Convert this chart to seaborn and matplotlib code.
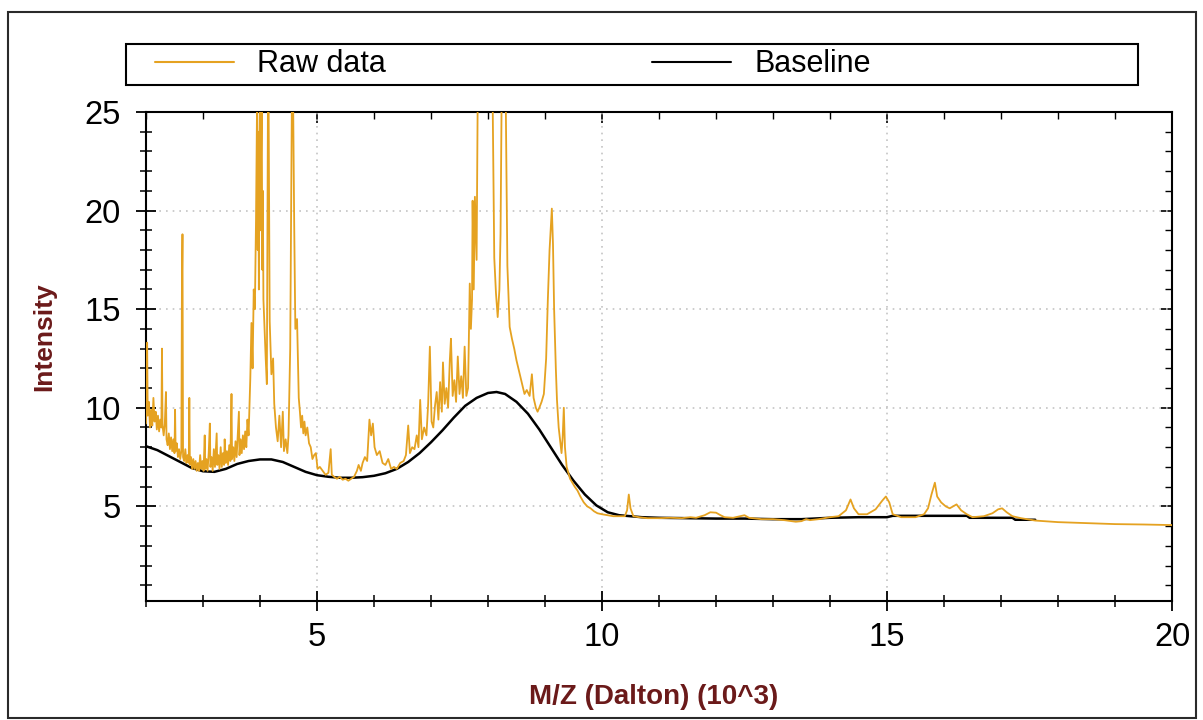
import matplotlib
matplotlib.use("Agg")
import matplotlib.pyplot as plt
import numpy as np
import pandas as pd
import seaborn as sns
from matplotlib.ticker import MultipleLocator
from matplotlib.patches import Rectangle
from matplotlib.lines import Line2D

# ---------------- data (M/Z in 10^3 Dalton, intensity) ----------------
raw_mz = [
    2.00, 2.02, 2.03, 2.05, 2.07, 2.09, 2.11, 2.13, 2.15, 2.17, 2.19, 2.21, 2.23, 2.25, 2.27, 2.28, 2.29,
    2.31, 2.33, 2.35, 2.36, 2.38, 2.40, 2.42, 2.44, 2.46, 2.48, 2.50, 2.51, 2.52, 2.54, 2.56, 2.58, 2.60,
    2.62, 2.63, 2.64, 2.65, 2.67, 2.69, 2.71, 2.73, 2.75, 2.76, 2.77, 2.79, 2.81, 2.83, 2.85, 2.87, 2.89,
    2.91, 2.93, 2.95, 2.97, 2.99, 3.01, 3.03, 3.04, 3.06, 3.08, 3.10, 3.12, 3.13, 3.15, 3.17, 3.19, 3.21,
    3.24, 3.25, 3.27, 3.29, 3.31, 3.33, 3.35, 3.37, 3.38, 3.40, 3.42, 3.44, 3.46, 3.48, 3.50, 3.51, 3.53,
    3.55, 3.57, 3.59, 3.61, 3.63, 3.64, 3.66, 3.68, 3.70, 3.72, 3.74, 3.76, 3.78, 3.80, 3.83, 3.85, 3.87,
    3.89, 3.91, 3.93, 3.95, 3.96, 3.97, 3.98, 3.99, 4.00, 4.01, 4.02, 4.03, 4.04, 4.05, 4.06, 4.08, 4.10,
    4.12, 4.14, 4.15, 4.17, 4.20, 4.23, 4.25, 4.28, 4.31, 4.34, 4.37, 4.40, 4.42, 4.45, 4.48, 4.50, 4.53,
    4.56, 4.58, 4.60, 4.62, 4.65, 4.68, 4.70, 4.72, 4.74, 4.76, 4.78, 4.80, 4.83, 4.86, 4.89, 4.92, 4.95,
    4.98, 5.01, 5.05, 5.10, 5.15, 5.20, 5.24, 5.26, 5.30, 5.35, 5.40, 5.45, 5.50, 5.55, 5.60, 5.65, 5.70,
    5.73, 5.77, 5.80, 5.84, 5.88, 5.92, 5.95, 5.98, 6.01, 6.05, 6.10, 6.15, 6.20, 6.25, 6.30, 6.35, 6.40,
    6.46, 6.52, 6.56, 6.60, 6.63, 6.67, 6.71, 6.75, 6.78, 6.81, 6.84, 6.88, 6.92, 6.95, 6.98, 7.01, 7.04,
    7.07, 7.10, 7.13, 7.16, 7.19, 7.21, 7.24, 7.27, 7.30, 7.33, 7.35, 7.38, 7.41, 7.44, 7.47, 7.50, 7.53,
    7.56, 7.59, 7.62, 7.65, 7.68, 7.70, 7.72, 7.73, 7.75, 7.77, 7.80, 7.82, 7.90, 8.00, 8.08, 8.11, 8.14,
    8.17, 8.20, 8.22, 8.24, 8.28, 8.31, 8.34, 8.38, 8.42, 8.46, 8.50, 8.55, 8.60, 8.64, 8.68, 8.73, 8.77,
    8.80, 8.84, 8.87, 8.90, 8.94, 8.98, 9.02, 9.05, 9.08, 9.12, 9.14, 9.16, 9.19, 9.21, 9.24, 9.27, 9.29,
    9.31, 9.33, 9.35, 9.38, 9.41, 9.44, 9.48, 9.52, 9.57, 9.62, 9.68, 9.74, 9.80, 9.86, 9.92, 10.00,
    10.10, 10.20, 10.30, 10.40, 10.44, 10.47, 10.50, 10.55, 10.65, 10.80, 11.00, 11.20, 11.40, 11.55,
    11.65, 11.80, 11.90, 12.00, 12.08, 12.15, 12.30, 12.42, 12.50, 12.58, 12.80, 13.00, 13.20, 13.40,
    13.50, 13.58, 13.65, 13.80, 14.00, 14.15, 14.28, 14.36, 14.42, 14.50, 14.65, 14.80, 14.92, 14.98,
    15.04, 15.10, 15.25, 15.50, 15.65, 15.72, 15.78, 15.84, 15.88, 15.95, 16.03, 16.10, 16.22, 16.30,
    16.40, 16.50, 16.70, 16.85, 16.95, 17.02, 17.10, 17.20, 17.35, 17.60, 18.00, 18.50, 19.00, 19.50,
    20.00,
]
raw_intensity = [
    9.2, 13.3, 9.6, 10.3, 9.0, 9.9, 9.1, 10.5, 9.3, 9.8, 8.9, 9.6, 8.8, 9.4, 9.0, 13.0, 9.1,
    8.6, 9.2, 10.8, 8.4, 8.1, 8.7, 7.9, 8.5, 7.8, 8.4, 7.7, 9.9, 7.8, 8.2, 7.5, 7.9, 7.4,
    7.8, 16.0, 18.8, 7.5, 7.3, 7.9, 7.2, 7.6, 7.2, 10.5, 7.1, 7.5, 6.9, 7.4, 6.9, 7.3, 6.8,
    7.2, 6.8, 7.6, 6.9, 7.3, 6.8, 8.6, 6.9, 7.4, 6.8, 7.7, 9.2, 7.0, 7.5, 6.8, 7.9, 7.0,
    8.7, 7.1, 7.6, 6.9, 8.0, 7.0, 7.7, 7.1, 8.4, 7.2, 7.8, 7.1, 8.1, 7.3, 10.7, 7.4, 8.0,
    7.3, 8.3, 7.5, 8.6, 9.8, 7.6, 8.4, 7.7, 8.6, 7.9, 8.8, 8.0, 9.4, 8.6, 11.5, 14.3, 12.0,
    16.0, 15.0, 19.5, 26.0, 18.0, 24.0, 16.0, 22.5, 26.0, 19.0, 23.0, 26.0, 17.0, 21.0, 15.5, 14.0, 12.5,
    11.2, 26.0, 26.0, 14.4, 11.7, 12.5, 10.2, 9.0, 8.3, 9.6, 8.0, 9.8, 7.8, 8.4, 7.7, 8.6, 13.0,
    26.0, 26.0, 19.3, 14.0, 14.5, 10.5, 9.8, 9.0, 9.6, 8.7, 9.3, 8.6, 9.0, 8.2, 8.0, 7.4, 7.6,
    7.7, 6.9, 7.0, 6.8, 6.6, 6.7, 7.9, 6.6, 6.5, 6.4, 6.5, 6.35, 6.4, 6.3, 6.4, 6.5, 6.8,
    7.1, 6.8, 7.2, 7.5, 7.3, 9.4, 8.6, 9.2, 8.0, 7.6, 7.8, 7.2, 7.1, 7.4, 6.9, 7.0, 6.9,
    7.2, 7.3, 7.6, 9.1, 7.7, 8.0, 7.9, 8.6, 8.0, 10.4, 8.4, 9.0, 8.6, 10.2, 13.1, 9.3, 9.0,
    10.1, 10.8, 9.4, 11.3, 9.8, 12.3, 10.2, 11.0, 10.0, 12.4, 13.5, 10.6, 11.4, 10.3, 12.6, 10.7, 11.6,
    10.5, 13.1, 10.6, 11.0, 16.3, 14.0, 15.5, 20.5, 16.0, 20.7, 17.5, 26.0, 26.0, 26.0, 26.0, 17.6, 15.8,
    14.6, 16.0, 18.8, 26.0, 26.0, 26.0, 17.2, 14.1, 13.5, 13.0, 12.4, 11.8, 11.2, 10.7, 10.9, 10.6, 11.7,
    10.5, 10.0, 9.8, 10.0, 10.3, 10.7, 12.5, 15.5, 18.0, 20.1, 18.3, 15.0, 12.0, 10.4, 9.0, 8.2, 7.7,
    8.5, 10.0, 8.0, 7.0, 6.7, 6.4, 6.2, 6.0, 5.8, 5.5, 5.2, 5.0, 4.9, 4.75, 4.65, 4.6,
    4.55, 4.5, 4.5, 4.5, 4.8, 5.6, 4.9, 4.5, 4.45, 4.4, 4.4, 4.42, 4.4, 4.45,
    4.42, 4.55, 4.7, 4.68, 4.55, 4.45, 4.42, 4.5, 4.55, 4.42, 4.35, 4.35, 4.3, 4.22,
    4.25, 4.35, 4.3, 4.35, 4.45, 4.5, 4.8, 5.35, 4.9, 4.6, 4.6, 4.85, 5.3, 5.5,
    5.2, 4.6, 4.45, 4.45, 4.6, 4.9, 5.6, 6.2, 5.5, 5.2, 5.0, 4.9, 5.1, 4.8,
    4.6, 4.45, 4.5, 4.65, 4.85, 4.9, 4.7, 4.5, 4.4, 4.28, 4.2, 4.15, 4.1, 4.08,
    4.05,
]

base_mz = [
    2.0, 2.2, 2.4, 2.6, 2.8, 3.0, 3.2, 3.4, 3.6, 3.8, 4.0, 4.2, 4.4, 4.6, 4.8, 5.0, 5.2, 5.4, 5.6,
    5.8, 6.0, 6.2, 6.4, 6.6, 6.8, 7.0, 7.2, 7.4, 7.6, 7.8, 8.0, 8.15, 8.3, 8.5, 8.7, 8.9, 9.1, 9.3,
    9.5, 9.7, 9.9, 10.1, 10.3, 10.5, 10.7, 11.0, 11.5, 12.0, 12.5, 13.0, 13.5, 14.0, 14.5, 15.0,
    15.1, 15.5, 16.0, 16.4, 16.45, 17.0, 17.2, 17.25, 17.6,
]
base_intensity = [
    8.05, 7.85, 7.55, 7.25, 6.95, 6.78, 6.75, 6.9, 7.15, 7.3, 7.38, 7.38, 7.25, 7.0, 6.75, 6.58, 6.5, 6.45, 6.45,
    6.48, 6.55, 6.68, 6.9, 7.25, 7.7, 8.25, 8.85, 9.5, 10.1, 10.5, 10.75, 10.8, 10.7, 10.3, 9.7, 8.9, 8.0, 7.1,
    6.3, 5.6, 5.05, 4.7, 4.55, 4.5, 4.45, 4.42, 4.4, 4.38, 4.38, 4.35, 4.35, 4.42, 4.45, 4.45,
    4.52, 4.52, 4.52, 4.52, 4.42, 4.42, 4.42, 4.32, 4.32,
]

series_names = ["Raw data", "Baseline"]
x_ticks = [5, 10, 15, 20]
y_ticks = [5, 10, 15, 20, 25]

raw_df = pd.DataFrame({"mz": raw_mz, "intensity": raw_intensity})
base_df = pd.DataFrame({"mz": base_mz, "intensity": base_intensity})

# ---------------- style ----------------
sns.set_theme(style="white")
plt.rcParams["font.family"] = ["Liberation Sans", "DejaVu Sans"]

RAW_COLOR = "#E5A221"
LABEL_COLOR = "#6b1a1a"
W, H = 1203.0, 720.0

fig = plt.figure(figsize=(12.03, 7.2), dpi=100)
fig.patch.set_facecolor("white")
ax = fig.add_axes([146 / W, 1 - 601 / H, (1172 - 146) / W, (601 - 112) / H])
ax.set_facecolor("white")

sns.lineplot(data=base_df, x="mz", y="intensity", ax=ax, color="black", lw=1.8,
             estimator=None, sort=False, zorder=3)
sns.lineplot(data=raw_df, x="mz", y="intensity", ax=ax, color=RAW_COLOR, lw=1.3,
             estimator=None, sort=False, zorder=4)

ax.set_xlim(2, 20)
ax.set_ylim(0.2, 25)

ax.set_xticks(x_ticks)
ax.set_yticks(y_ticks)
ax.xaxis.set_minor_locator(MultipleLocator(1))
ax.yaxis.set_minor_locator(MultipleLocator(1))

ax.grid(True, which="major", linestyle=(0, (1, 3)), color="#c4c4c4", lw=1.2)
ax.set_axisbelow(True)

for s in ax.spines.values():
    s.set_visible(True)
    s.set_color("black")
    s.set_linewidth(1.5)

ax.tick_params(which="major", direction="inout", length=14, width=1.3, colors="black",
               labelsize=23.5, bottom=True, left=True)
ax.tick_params(axis="x", which="major", pad=8)
ax.tick_params(axis="y", which="major", pad=11)
ax.tick_params(which="minor", direction="inout", length=9, width=1.1, colors="black",
               bottom=True, left=True)

# inward ticks on top and right
secx = ax.secondary_xaxis("top")
secx.set_xticks(x_ticks)
secx.xaxis.set_minor_locator(MultipleLocator(1))
secx.tick_params(which="major", direction="in", length=8, width=1.2, labeltop=False, colors="black")
secx.tick_params(which="minor", direction="in", length=5, width=1.0, colors="black")
secy = ax.secondary_yaxis("right")
secy.set_yticks(y_ticks)
secy.yaxis.set_minor_locator(MultipleLocator(1))
secy.tick_params(which="major", direction="in", length=8, width=1.2, labelright=False, colors="black")
secy.tick_params(which="minor", direction="in", length=5, width=1.0, colors="black")

ax.set_xlabel("M/Z (Dalton) (10^3)", fontsize=20, fontweight="bold", color=LABEL_COLOR)
ax.set_ylabel("Intensity", fontsize=19, fontweight="bold", color=LABEL_COLOR)
ax.xaxis.set_label_coords(0.495, -0.17)
ax.yaxis.set_label_coords(-0.087, 0.54)

# legend: a framed box above the plot, entries at fixed positions
fig.patches.append(Rectangle((126 / W, 1 - 85 / H), (1138 - 126) / W, 41 / H,
                             transform=fig.transFigure, fill=False, edgecolor="black", lw=1.5))
raw_handle = Line2D([], [], color=RAW_COLOR, lw=1.5)
base_handle = Line2D([], [], color="black", lw=1.5)
leg_y = 1 - 64.5 / H
for handle, name, x0 in [(raw_handle, series_names[0], 155), (base_handle, series_names[1], 652)]:
    fig.legend([handle], [name], loc="center left", bbox_to_anchor=(x0 / W, leg_y),
               bbox_transform=fig.transFigure, fontsize=22, frameon=False, labelcolor="black",
               handlelength=2.6, handletextpad=0.75, borderpad=0, borderaxespad=0)

# outer frame
fig.patches.append(Rectangle((8 / W, 2 / H), (1196 - 8) / W, (718 - 12) / H, transform=fig.transFigure,
                             fill=False, edgecolor="#2a2a2a", lw=1.5))

fig.savefig("out.png", dpi=100)
